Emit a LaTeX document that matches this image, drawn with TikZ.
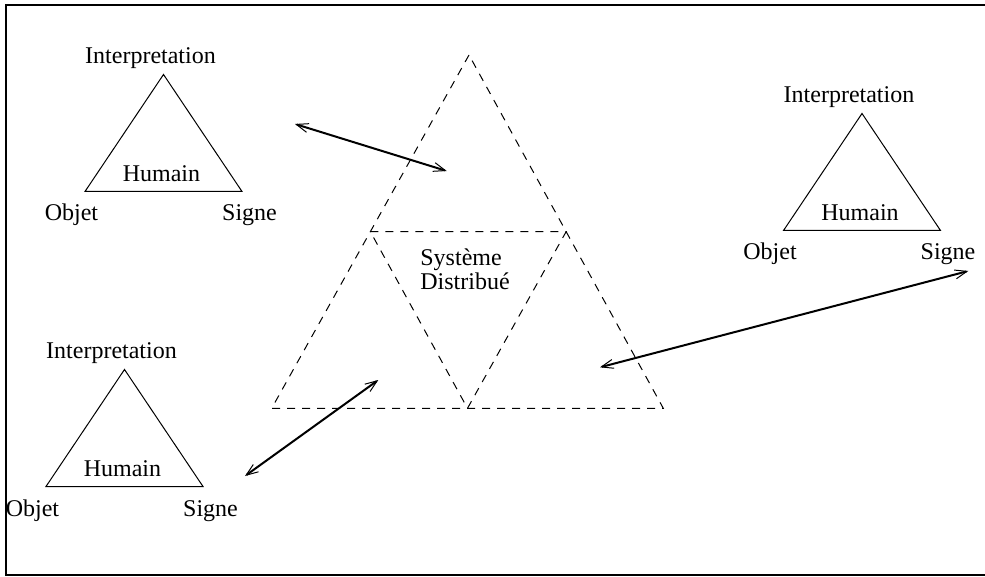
\documentclass[tikz,border=0pt]{standalone}
\usepackage{fontspec}
\setmainfont{Liberation Serif}
\usetikzlibrary{arrows.meta,calc}
\begin{document}
\begin{tikzpicture}[x=0.5pt,y=-0.5pt,
  solidtri/.style={line width=0.5pt, line join=miter},
  dashtri/.style={line width=0.5pt, dash pattern=on 4pt off 3.5pt},
  barb/.tip={Straight Barb[length=6pt,width=4.5pt,line width=0.5pt]},
  link/.style={line width=1pt, barb-barb},
  lbl/.style={inner sep=0pt, anchor=base, font=\fontsize{12}{14}\selectfont},
  semiotic/.pic={
    \coordinate (-top) at (0,0);
    \coordinate (-left) at (-78.5,117);
    \coordinate (-right) at (78.5,117);
    \draw[solidtri] (-top) -- (-left) -- (-right) -- cycle;
    \node[lbl] (-interp) at (-13,-11) {Interpretation};
    \node[lbl] (-human) at (-2,107) {Humain};
    \node[lbl] (-obj) at (-92,146.5) {Objet};
    \node[lbl] (-sign) at (86,146.5) {Signe};
  },
]
\useasboundingbox (0,0) rectangle (985,577);
% outer frame, open on the right
\draw[line width=0.75pt] (995,5) -- (6,5) -- (6,575) -- (995,575);

% the three human sign triangles
\pic (hA) at (163.5,74.5) {semiotic};
\pic (hB) at (124.5,369.5) {semiotic};
\pic (hC) at (862,113.5) {semiotic};

% distributed system: subdivided dashed triangle
\coordinate (dTop) at (469,55);
\coordinate (dLeft) at (271.7,408.3);
\coordinate (dRight) at (663.3,408.3);
\coordinate (dML) at ($(dTop)!0.5!(dLeft)$);
\coordinate (dMR) at ($(dTop)!0.5!(dRight)$);
\coordinate (dMB) at ($(dLeft)!0.5!(dRight)$);
\draw[dashtri] (dTop) -- (dLeft) -- (dRight) -- cycle;
\draw[dashtri] (dML) -- (dMR) -- (dMB) -- cycle;
\node[lbl, anchor=base west] (sys1) at (420,265) {Système};
\node[lbl, anchor=base west] (sys2) at (420,290) {Distribué};

% exchanges between humans and the system
\coordinate (aA1) at (295,124);
\coordinate (aA2) at (446.7,171);
\coordinate (aB1) at (245,476);
\coordinate (aB2) at (378.3,380);
\coordinate (aC1) at (600,367.3);
\coordinate (aC2) at (968.3,271);
\draw[link] (aA1) -- (aA2);
\draw[link] (aB1) -- (aB2);
\draw[link] (aC1) -- (aC2);
\end{tikzpicture}
\end{document}
